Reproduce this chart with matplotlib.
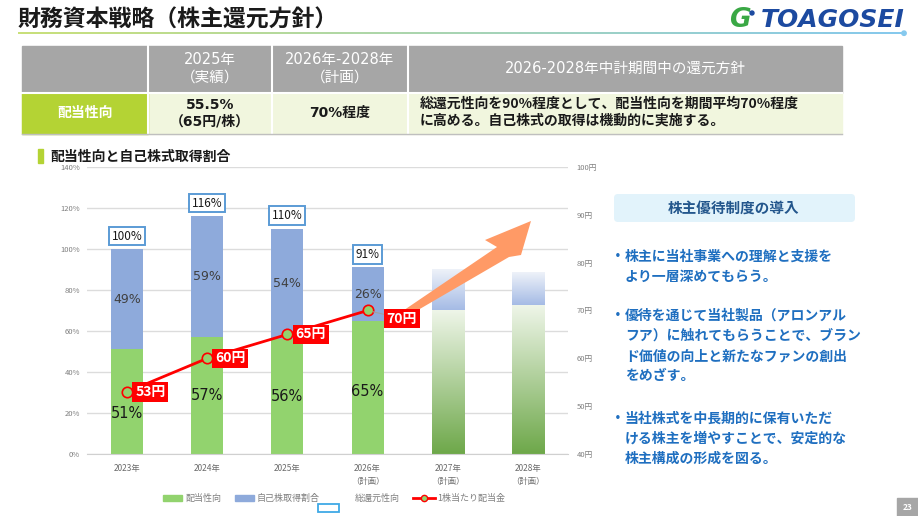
import matplotlib
matplotlib.use('Agg')
import matplotlib.pyplot as plt
import numpy as np
from matplotlib.patches import Rectangle, FancyBboxPatch, Polygon
from matplotlib.colors import to_rgb

plt.rcParams['font.family'] = ['Noto Sans CJK JP', 'DejaVu Sans']
NUMFONT = ['DejaVu Sans', 'Noto Sans CJK JP']

# ---------------- data ----------------
years = ['2023年', '2024年', '2025年', '2026年\n（計画）', '2027年\n（計画）', '2028年\n（計画）']
payout = [51, 57, 56, 65]              # 配当性向 (%)
buyback = [49, 59, 54, 26]             # 自己株取得割合 (%)
total = [100, 116, 110, 91]            # 総還元性向 (%)
plan_payout = [70, 72.5]               # 2027-2028 plan (image)
plan_total = [90, 88.5]
dps = [53, 60, 65, 70]                 # 1株当たり配当金 (円)
dps_labels = ['53円', '60円', '65円', '70円']
left_ticks = [0, 20, 40, 60, 80, 100, 120, 140]
right_ticks = [40, 50, 60, 70, 80, 90, 100]

title = '財務資本戦略（株主還元方針）'
subtitle = '配当性向と自己株式取得割合'
table_head = ['2025年\n（実績）', '2026年-2028年\n（計画）', '2026-2028年中計期間中の還元方針']
table_row_label = '配当性向'
table_row = ['55.5%\n（65円/株）', '70%程度']
table_policy = ['総還元性向を90%程度として、配当性向を期間平均70%程度',
                'に高める。自己株式の取得は機動的に実施する。']
panel_title = '株主優待制度の導入'
bullets = [
    ['株主に当社事業への理解と支援を', 'より一層深めてもらう。'],
    ['優待を通じて当社製品（アロンアル', 'フア）に触れてもらうことで、ブラン',
     'ド価値の向上と新たなファンの創出', 'をめざす。'],
    ['当社株式を中長期的に保有いただ', 'ける株主を増やすことで、安定的な',
     '株主構成の形成を図る。'],
]
legend_labels = ['配当性向', '自己株取得割合', '総還元性向', '1株当たり配当金']

# ---------------- figure ----------------
W, H = 918, 516
fig = plt.figure(figsize=(W / 100, H / 100), dpi=100)
bg = fig.add_axes([0, 0, 1, 1])
bg.set_xlim(0, W)
bg.set_ylim(H, 0)
bg.axis('off')
bg.set_zorder(0)

GREEN = '#92d36e'
BLUE = '#8eaadb'
GRAY_T = '#7f7f7f'

# title
bg.text(18, 20, title, fontsize=16.5, fontweight='bold', color='#1a1a1a', va='center', ha='left')
grad = np.linspace(0, 1, 256)[None, :, None]
c1 = np.array(to_rgb('#c9e07a')); c2 = np.array(to_rgb('#86c9ee'))
bg.imshow(c1 * (1 - grad) + c2 * grad, extent=[18, 903, 34.2, 32.2], aspect='auto', zorder=1)
bg.add_patch(plt.Circle((904, 33.2), 2.2, color='#86c9ee', zorder=2))
bg.set_xlim(0, W); bg.set_ylim(H, 0)
# logo
bg.text(729, 20, 'G', fontsize=19, fontweight='bold', fontstyle='italic', color='#3aa845',
        family='DejaVu Sans', va='center', ha='left')
bg.add_patch(plt.Circle((752, 13), 2.0, color='#1c4aa0', zorder=3))
bg.text(761, 20, 'TOAGOSEI', fontsize=18, fontweight='bold', fontstyle='italic', color='#1c4aa0',
        family='DejaVu Sans', va='center', ha='left')

# table
cols = [22, 148, 272, 408, 842]
bg.add_patch(Rectangle((22, 46), 820, 47, color='#a6a6a6', zorder=1))
bg.add_patch(Rectangle((22, 93), 820, 41, color='#f1f6de', zorder=1))
bg.add_patch(Rectangle((22, 93), 126, 41, color='#b4d334', zorder=1))
for cx in cols[1:-1]:
    bg.plot([cx, cx], [46, 134], color='white', lw=1.5, zorder=2)
bg.plot([22, 842], [93, 93], color='white', lw=1.5, zorder=2)
bg.plot([22, 842], [134, 134], color='#bfbfbf', lw=1, zorder=2)
for i, t in enumerate(table_head):
    cx = (cols[i + 1] + cols[i + 2]) / 2
    bg.text(cx, 68, t, fontsize=10.5, color='white', ha='center', va='center', linespacing=1.2,
            family=NUMFONT, zorder=3)
bg.text(85, 113, table_row_label, fontsize=10, color='white', fontweight='bold',
        ha='center', va='center', zorder=3)
for i, t in enumerate(table_row):
    cx = (cols[i + 1] + cols[i + 2]) / 2
    bg.text(cx, 113, t, fontsize=10, color='#1a1a1a', fontweight='bold', ha='center',
            va='center', linespacing=1.2, family=NUMFONT, zorder=3)
for j, t in enumerate(table_policy):
    bg.text(420, 104 + j * 17, t, fontsize=10, color='#1a1a1a', fontweight='bold',
            ha='left', va='center', zorder=3)

# subtitle
bg.add_patch(Rectangle((38, 149), 5, 14, color='#b4d334', zorder=3))
bg.text(50, 157, subtitle, fontsize=10, fontweight='bold', color='#1a1a1a', ha='left', va='center', zorder=5)

# right panel
bg.add_patch(FancyBboxPatch((614, 194), 241, 28, boxstyle='round,pad=0,rounding_size=4',
                            fc='#e2f3fb', ec='none', zorder=1))
bg.text(734, 208, panel_title, fontsize=10.5, fontweight='bold', color='#23568c',
        ha='center', va='center', zorder=2)
BUL = '#1f6fc0'
starts = [257, 316, 419]
for s, lines in zip(starts, bullets):
    bg.text(611, s, '・', fontsize=10, fontweight='bold', color=BUL, ha='left', va='center')
    for k, ln in enumerate(lines):
        bg.text(625, s + k * 20, ln, fontsize=10, fontweight='bold', color=BUL, ha='left', va='center')

# page number
bg.add_patch(Rectangle((897, 498), 21, 18, color='#a6a6a6', zorder=1))
bg.text(907.5, 508, '23', fontsize=6, fontweight='bold', color='white', ha='center', va='center')

# legend (manual)
bg.add_patch(Rectangle((163, 495), 19, 6, color=GREEN))
bg.text(185, 498, legend_labels[0], fontsize=6.5, color=GRAY_T, ha='left', va='center')
bg.add_patch(Rectangle((235, 495), 19, 6, color=BLUE))
bg.text(256, 498, legend_labels[1], fontsize=6.5, color=GRAY_T, ha='left', va='center')
bg.text(355, 498, legend_labels[2], fontsize=6.5, color=GRAY_T, ha='left', va='center')
bg.add_patch(Rectangle((318, 503.5), 21, 8.5, fc='white', ec='#3fa9e6', lw=1.3))
bg.plot([413, 435], [498, 498], color='red', lw=2)
bg.plot([424], [498], marker='o', ms=4.5, mfc=GREEN, mec='red', mew=1)
bg.text(437, 498, legend_labels[3], fontsize=6.5, color=GRAY_T, ha='left', va='center')

# ---------------- chart ----------------
ax = fig.add_axes([87 / W, 1 - 454 / H, 481 / W, 287 / H])
ax.set_zorder(2)
ax.patch.set_visible(False)
x = np.arange(len(years))
bw = 0.4
n_act = len(payout)
ax.bar(x[:n_act], payout, width=bw, color=GREEN, zorder=2)
ax.bar(x[:n_act], buyback, bottom=payout, width=bw, color=BLUE, zorder=2)


def grad_bar(xc, y0, y1, cb, ct):
    t = np.linspace(0, 1, 100)[:, None, None]
    a = np.array(to_rgb(cb)); b = np.array(to_rgb(ct))
    img = a * (1 - t) + b * t
    ax.imshow(img, extent=[xc - bw / 2, xc + bw / 2, y0, y1], origin='lower',
              aspect='auto', zorder=2, interpolation='bilinear')


for i, (p, tt) in enumerate(zip(plan_payout, plan_total)):
    xc = x[n_act + i]
    grad_bar(xc, 0, p, '#6ea84a', '#eef5e8')
    grad_bar(xc, p, tt, '#a5bbe5', '#eef2f9')

ax.set_xlim(-0.5, len(years) - 0.5)
ax.set_ylim(0, 140)
ax.set_yticks(left_ticks, [f'{v}%' for v in left_ticks])
ax.set_xticks(x, years)
ax.grid(axis='y', color='#dcdcdc', lw=1, zorder=0)
ax.set_axisbelow(True)
for s in ['top', 'right', 'left']:
    ax.spines[s].set_visible(False)
ax.spines['bottom'].set_color('#d0d0d0')
ax.tick_params(axis='y', length=0, labelsize=5.5, labelcolor=GRAY_T, pad=5)
ax.tick_params(axis='x', length=0, labelsize=6, labelcolor='#6b6b6b', pad=7)
for lab in ax.get_xticklabels():
    lab.set_linespacing(1.6)
    lab.set_va('top')

# segment labels
shift = [-5.5, 0, 0, -2]
for i in range(n_act):
    ax.text(x[i], payout[i] / 2 + shift[i], f'{payout[i]}%', ha='center', va='center',
            fontsize=10.5, color='#1a1a1a', family=NUMFONT, zorder=4)
    ax.text(x[i], payout[i] + buyback[i] / 2, f'{buyback[i]}%', ha='center', va='center',
            fontsize=9, color='#404040', family=NUMFONT, zorder=4)
    ax.annotate(f'{total[i]}%', (x[i], total[i]), xytext=(0, 13), textcoords='offset pixels',
                ha='center', va='center', fontsize=8.5, color='#1a1a1a', zorder=4,
                bbox=dict(boxstyle='square,pad=0.22', fc='white', ec='#5b9bd5', lw=1.4))

ax2 = ax.twinx()
ax2.set_ylim(40, 100)
ax2.set_yticks(right_ticks, [f'{v}円' for v in right_ticks])
for s in ax2.spines.values():
    s.set_visible(False)
ax2.tick_params(axis='y', length=0, labelsize=5.5, labelcolor=GRAY_T, pad=6)

# orange arrow (decorative, pixel coords)
arrow = Polygon([(388, 321), (497, 247), (485, 240), (531, 221), (521, 255), (509, 257), (394, 324)],
                closed=True, fc='#ff9a66', ec='none', transform=bg.transData, zorder=3, clip_on=False)
ax2.add_patch(arrow)

ax2.plot(x[:n_act], dps, color='red', lw=2, marker='o', ms=7.5, mfc=GREEN, mec='red', mew=1.2, zorder=5)
for i, (v, lb) in enumerate(zip(dps, dps_labels)):
    if i < n_act - 1:
        ax2.annotate(lb, (x[i], v), xytext=(8, 0), textcoords='offset pixels', ha='left', va='center',
                     fontsize=10, fontweight='bold', color='white', zorder=6,
                     bbox=dict(boxstyle='square,pad=0.2', fc='red', ec='none'))
    else:
        ax2.annotate(lb, (x[i], v), xytext=(19, -8), textcoords='offset pixels', ha='left', va='center',
                     fontsize=10, fontweight='bold', color='white', zorder=6,
                     bbox=dict(boxstyle='square,pad=0.2', fc='red', ec='none'),
                     arrowprops=dict(arrowstyle='-', color='#a0a0a0', lw=0.8, shrinkA=0, shrinkB=4))

fig.savefig('out.png', dpi=100)
